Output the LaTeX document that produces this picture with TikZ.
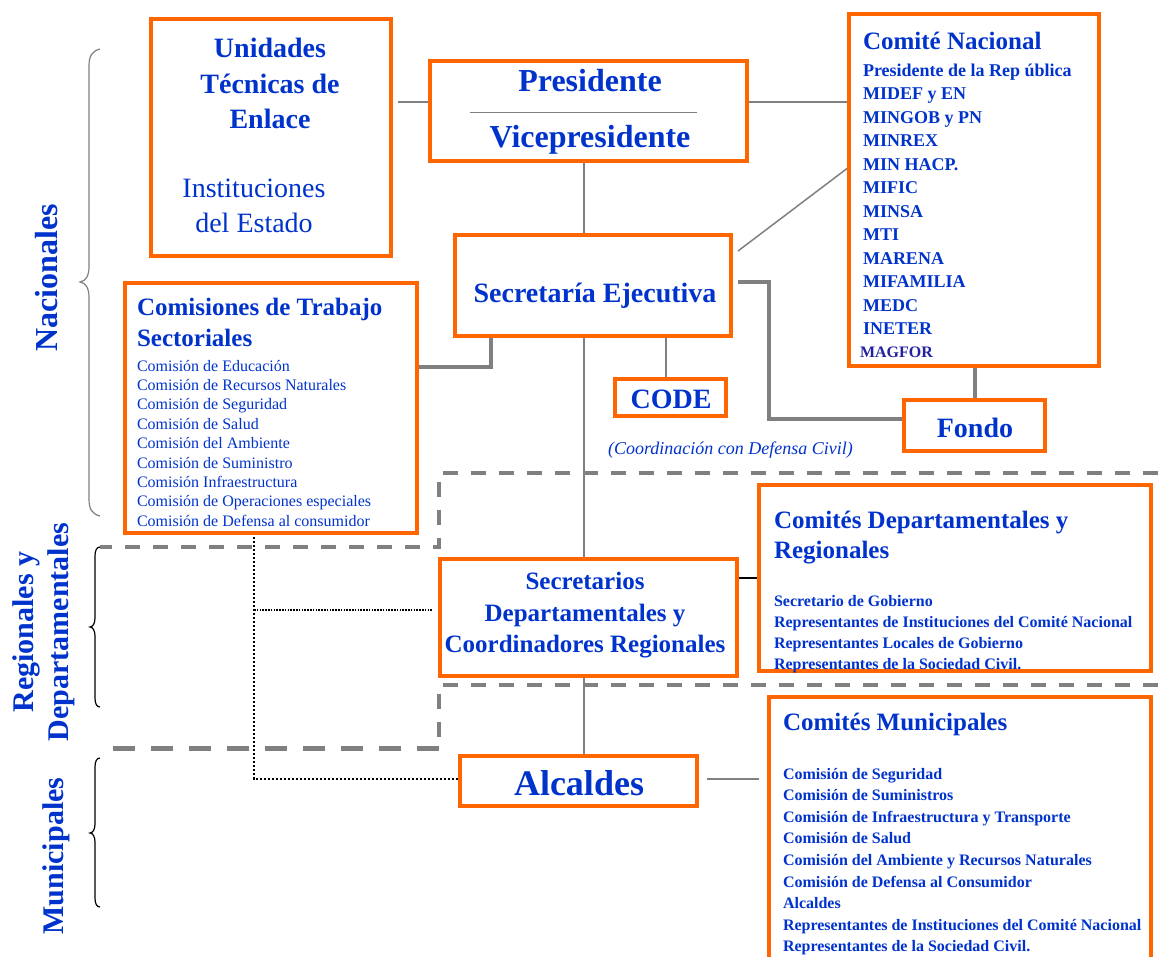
\documentclass[tikz,border=0pt]{standalone}
\usepackage{fontspec}
\setmainfont{Liberation Serif}
\usetikzlibrary{calc}
\definecolor{orng}{HTML}{FF6600}
\definecolor{txtblue}{HTML}{0033CC}
\definecolor{lgray}{HTML}{808080}
\definecolor{navyb}{HTML}{22229F}
\newcommand\fsz[1]{\fontsize{#1}{#1}\selectfont}
\tikzset{
  obox/.style={draw=orng, line width=4pt, fill=white, inner sep=0pt, outer sep=0pt, rectangle},
  txt/.style={text=txtblue, inner sep=0pt, outer sep=0pt},
  conn/.style={draw=lgray, line width=1.5pt},
  tconn/.style={draw=lgray, line width=4pt},
  dashA/.style={draw=lgray, line width=4pt, dash pattern=on 15pt off 13pt},
  dashB/.style={draw=lgray, line width=5pt, dash pattern=on 22pt off 16pt},
  dotA/.style={draw=black, line width=2.6pt, dash pattern=on 2.4pt off 1.6pt},
  dotB/.style={draw=black, line width=1.5pt, dash pattern=on 1.5pt off 1.3pt},
  bracegray/.style={draw=lgray, line width=1.2pt},
  braceblack/.style={draw=black, line width=1.2pt},
  ttl/.style={txt, font=\bfseries\fsz{25}, anchor=base west},
}
\begin{document}
\begin{tikzpicture}[x=1pt,y=-1pt]
\useasboundingbox (0,0) rectangle (1158,956);
\clip (0,0) rectangle (1158,956);
\fill[white] (0,0) rectangle (1158,956);

% dashed separators
\draw[dashA] (1158,473) -- (439,473) -- (439,547) -- (100,547);
\draw[dashA] (1158,685) -- (439,685) -- (439,748);
\draw[dashB] (439,748) -- (100,748);

% braces
\draw[bracegray] (100,49) .. controls (92,51) and (89,56) .. (89,66) -- (89,266)
  .. controls (89,276) and (86,281) .. (80,282) .. controls (86,283) and (89,288) .. (89,298)
  -- (89,499) .. controls (89,509) and (92,514) .. (100,516);
\draw[braceblack] (100,547) .. controls (97,547) and (95,550) .. (95,556) -- (95,618)
  .. controls (95,623) and (93,627) .. (90,627) .. controls (93,627) and (95,631) .. (95,636)
  -- (95,698) .. controls (95,704) and (97,707) .. (100,707);
\draw[braceblack] (100,758) .. controls (97,758) and (95,761) .. (95,767) -- (95,824)
  .. controls (95,829) and (93,833) .. (90,833) .. controls (93,833) and (95,837) .. (95,842)
  -- (95,898) .. controls (95,904) and (97,907) .. (100,907);

% level labels
\node[txt, font=\bfseries\fsz{32}, rotate=90, anchor=base] (lnac) at (57,278) {Nacionales};
\node[txt, font=\bfseries\fsz{30}, rotate=90, anchor=base] (lreg) at (33,632) {Regionales y};
\node[txt, font=\bfseries\fsz{30}, rotate=90, anchor=base] (ldep) at (68,632) {Departamentales};
\node[txt, font=\bfseries\fsz{30}, rotate=90, anchor=base] (lmun) at (63,856) {Municipales};

% box geometry (nodes)
\path
  (271,137.5) node[obox, minimum width=240pt, minimum height=237pt] (uni) {}
  (588.5,111) node[obox, minimum width=317pt, minimum height=100pt] (pres) {}
  (593,285.5) node[obox, minimum width=276pt, minimum height=101pt] (sec) {}
  (974,190) node[obox, minimum width=250pt, minimum height=352pt] (cn) {}
  (271,408) node[obox, minimum width=292pt, minimum height=250pt] (com) {}
  (670.5,397.5) node[obox, minimum width=111pt, minimum height=37pt] (code) {}
  (974.5,425.5) node[obox, minimum width=141pt, minimum height=51pt] (fondo) {}
  (588.5,617.5) node[obox, minimum width=297pt, minimum height=117pt] (secr) {}
  (955,578) node[obox, minimum width=392pt, minimum height=186pt] (cdep) {}
  (578.5,781) node[obox, minimum width=237pt, minimum height=50pt] (alc) {}
  (960,835) node[obox, minimum width=382pt, minimum height=276pt] (cmun) {};

% connectors
\coordinate (xc) at (584,0);
\coordinate (j1) at (398,102);
\coordinate (d1) at (738,251);
\coordinate (k0) at (738,282);
\coordinate (k1) at (769,419);
\coordinate (c0) at (666,0);
\coordinate (t1) at (491,367);
\coordinate (m1) at (707,779);
\coordinate (p1) at (254,779);
\coordinate (p2) at (254,610);
\draw[conn] (pres.south -| xc) -- (sec.north -| xc);
\draw[conn] (sec.south -| xc) -- (secr.north -| xc);
\draw[conn] (secr.south -| xc) -- (alc.north -| xc);
\draw[conn] (j1) -- (j1 -| pres.west);
\draw[conn] (pres.east |- j1) -- (cn.west |- j1);
\draw[conn] (d1) -- ([yshift=23pt]cn.west);
\draw[tconn] (k0) -| (k1) -- (k1 -| fondo.west);
\draw[tconn] (fondo.north |- cn.south) -- (fondo.north);
\draw[conn] (sec.south -| c0) -- (code.north -| c0);
\draw[tconn] (com.east |- t1) -- (t1) -- (t1 |- sec.south);
\draw[draw=black, line width=1.5pt] (cdep.west -| secr.east) -- (cdep.west);
\draw[conn] (m1) -- ($(m1 -| cmun.west)+(-10,0)$);
\draw[dotA] (com.south -| p1) -- (p1) -- (p1 -| alc.west);
\draw[dotB] (p2) -- ($(p2 -| secr.west)+(-8,0)$);

% redraw box borders over connector ends
\foreach \b in {uni,pres,sec,cn,com,code,fondo,secr,cdep,alc,cmun}
  \draw[draw=orng, line width=4pt] (\b.north west) rectangle (\b.south east);

% Unidades
\node[txt, font=\bfseries\fsz{28}, anchor=base] (u1) at (270,57) {Unidades};
\node[txt, font=\bfseries\fsz{28}, anchor=base] (u2) at (270,93) {Técnicas de};
\node[txt, font=\bfseries\fsz{28}, anchor=base] (u3) at (270,128) {Enlace};
\node[txt, font=\fsz{28}, anchor=base] (u4) at (254,197) {Instituciones};
\node[txt, font=\fsz{28}, anchor=base] (u5) at (254,232) {del Estado};

% Presidente
\node[txt, font=\bfseries\fsz{32}, anchor=base] (p1t) at (590,91) {Presidente};
\node[txt, font=\bfseries\fsz{32}, anchor=base] (p2t) at (590,147) {Vicepresidente};
\draw[conn, line width=1pt] (470,112) -- (697,112);

% Secretaria
\node[txt, font=\bfseries\fsz{28}, anchor=base] (s1) at (595,302) {Secretaría Ejecutiva};

% Comite Nacional
\node[ttl] (cnt) at (863,49) {Comité Nacional};
\foreach \t [count=\i] in {Presidente de la Rep ública, MIDEF y EN, MINGOB y PN, MINREX, MIN HACP., MIFIC, MINSA, MTI, MARENA, MIFAMILIA, MEDC, INETER}
  \node[txt, font=\bfseries\fsz{18}, anchor=base west] (cni\i) at (863,{76+23.5*(\i-1)}) {\t};
\node[txt, text=navyb, font=\bfseries\fsz{16}, anchor=base west] (cnmag) at (860,357) {MAGFOR};

% Comisiones
\node[ttl] (ct1) at (137,315) {Comisiones de Trabajo};
\node[ttl] (ct2) at (137,346) {Sectoriales};
\foreach \t [count=\i] in {Comisión de Educación, Comisión de Recursos Naturales, Comisión de Seguridad, Comisión de Salud, Comisión del Ambiente, Comisión de Suministro, Comisión Infraestructura, Comisión de Operaciones especiales, Comisión de Defensa al consumidor}
  \node[txt, font=\fsz{16}, anchor=base west] (coi\i) at (137,{371+19.4*(\i-1)}) {\t};

% CODE, Fondo
\node[txt, font=\bfseries\fsz{28}, anchor=base] (codet) at (671,408) {CODE};
\node[txt, font=\bfseries\fsz{28}, anchor=base] (fondot) at (975,437) {Fondo};
\node[txt, font=\itshape\fsz{18}, anchor=base west] (coord) at (608,454) {(Coordinación con Defensa Civil)};

% Secretarios
\node[txt, font=\bfseries\fsz{25}, anchor=base] (sr1) at (585,589) {Secretarios};
\node[txt, font=\bfseries\fsz{25}, anchor=base] (sr2) at (585,621) {Departamentales y};
\node[txt, font=\bfseries\fsz{25}, anchor=base] (sr3) at (585,652) {Coordinadores Regionales};

% Comites Departamentales
\node[ttl] (cd1) at (774,528) {Comités Departamentales y};
\node[ttl] (cd2) at (774,558) {Regionales};
\foreach \t [count=\i] in {Secretario de Gobierno, Representantes de Instituciones del Comité Nacional, Representantes Locales de Gobierno, Representantes de la Sociedad Civil.}
  \node[txt, font=\bfseries\fsz{16}, anchor=base west] (cdi\i) at (774,{606+21.3*(\i-1)}) {\t};

% Alcaldes
\node[txt, font=\bfseries\fsz{36}, anchor=base] (alct) at (579,795) {Alcaldes};

% Comites Municipales
\node[ttl] (cm1) at (783,730) {Comités Municipales};
\foreach \t [count=\i] in {Comisión de Seguridad, Comisión de Suministros, Comisión de Infraestructura y Transporte, Comisión de Salud, Comisión del Ambiente y Recursos Naturales, Comisión de Defensa al Consumidor, Alcaldes, Representantes de Instituciones del Comité Nacional, Representantes de la Sociedad Civil.}
  \node[txt, font=\bfseries\fsz{16}, anchor=base west] (cmi\i) at (783,{779+21.6*(\i-1)}) {\t};
\end{tikzpicture}
\end{document}
